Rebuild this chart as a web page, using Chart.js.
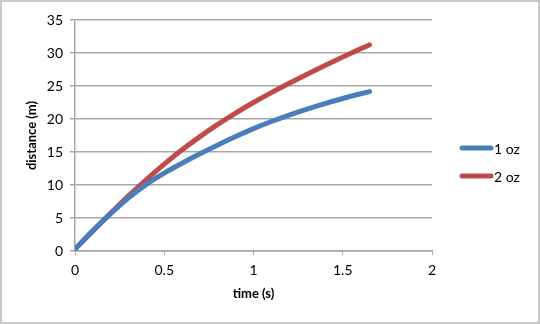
<!DOCTYPE html>
<html>
<head>
<meta charset="utf-8">
<script src="https://cdn.jsdelivr.net/npm/chart.js@4.4.1/dist/chart.umd.min.js"></script>
<style>
  html, body { margin: 0; padding: 0; background: #fff; }
  #wrap { width: 540px; height: 324px; position: relative; }
</style>
</head>
<body>
<div id="wrap"><canvas id="myChart" width="540" height="324"></canvas></div>
<script>
// time samples (s) and distance (m) for each filter weight
let times = [0, 0.1, 0.2, 0.3, 0.4, 0.5, 0.6, 0.7, 0.8, 0.9, 1.0, 1.1, 1.2, 1.3, 1.4, 1.5, 1.6, 1.65];
let oneOz = [0.3, 3.05, 5.65, 8.05, 10.1, 11.8, 13.3, 14.72, 16.07, 17.35, 18.55, 19.62, 20.6, 21.5, 22.34, 23.11, 23.82, 24.15];
let twoOz = [0.3, 3.05, 5.75, 8.35, 10.83, 13.16, 15.33, 17.33, 19.18, 20.9, 22.5, 24.0, 25.42, 26.79, 28.11, 29.39, 30.63, 31.24];
let seriesNames = ['1 oz', '2 oz'];
let xTicks = [0, 0.5, 1, 1.5, 2];
let yTicks = [0, 5, 10, 15, 20, 25, 30, 35];

const gridGray = '#a6a6a6';
const fontFamily = 'Lato, "Open Sans", sans-serif';

function toPoints(ys) {
  let pts = [];
  for (let i = 0; i < times.length; i++) {
    pts.push({ x: times[i], y: ys[i] });
  }
  return pts;
}

// legend drawn to the right of the plot, stacked around the vertical middle
const sideLegend = {
  id: 'sideLegend',
  afterDraw(chart) {
    const c = chart.ctx;
    const sets = chart.data.datasets;
    const mid = chart.height / 2;
    const gap = 28;
    c.save();
    c.font = '14px ' + fontFamily;
    c.textBaseline = 'middle';
    c.fillStyle = '#000';
    for (let i = 0; i < sets.length; i++) {
      let y = mid + (i - (sets.length - 1) / 2) * gap;
      c.strokeStyle = sets[i].borderColor;
      c.lineWidth = 5;
      c.lineCap = 'round';
      c.beginPath();
      c.moveTo(462, y);
      c.lineTo(491, y);
      c.stroke();
      c.fillText(sets[i].label, 494, y + 1);
    }
    c.restore();
  }
};

// thin frame round the whole chart
const frame = {
  id: 'frame',
  afterDraw(chart) {
    const c = chart.ctx;
    c.save();
    c.strokeStyle = '#b8b8b8';
    c.lineWidth = 1.5;
    c.strokeRect(1, 1, chart.width - 2, chart.height - 2);
    c.restore();
  }
};

function lineSet(name, ys, color) {
  return {
    label: name,
    data: toPoints(ys),
    showLine: true,
    borderColor: color,
    backgroundColor: color,
    borderWidth: 5,
    borderCapStyle: 'round',
    borderJoinStyle: 'round',
    pointRadius: 0,
    cubicInterpolationMode: 'monotone'
  };
}

const ctx = document.getElementById('myChart').getContext('2d');
const myChart = new Chart(ctx, {
  type: 'scatter',
  data: {
    datasets: [
      lineSet(seriesNames[0], oneOz, '#4a7ebb'),
      lineSet(seriesNames[1], twoOz, '#be4b48')
    ]
  },
  options: {
    responsive: false,
    animation: false,
    layout: { padding: { left: 20, top: 20, right: 108, bottom: 18 } },
    plugins: {
      legend: { display: false },
      tooltip: { enabled: false }
    },
    scales: {
      x: {
        type: 'linear',
        min: xTicks[0],
        max: xTicks[xTicks.length - 1],
        afterBuildTicks: (scale) => { scale.ticks = xTicks.map(v => ({ value: v })); },
        afterFit: (scale) => { scale.height = 55; },
        grid: { drawOnChartArea: false, color: gridGray, tickLength: 4, lineWidth: 1 },
        border: { color: gridGray, width: 1.5 },
        ticks: {
          color: '#000',
          padding: 7,
          font: { family: fontFamily, size: 14 },
          callback: (v) => String(v)
        },
        title: {
          display: true,
          text: 'time (s)',
          color: '#000',
          padding: 4,
          font: { family: fontFamily, size: 13, weight: 'bold' }
        }
      },
      y: {
        min: yTicks[0],
        max: yTicks[yTicks.length - 1],
        afterBuildTicks: (scale) => { scale.ticks = yTicks.map(v => ({ value: v })); },
        afterFit: (scale) => { scale.width = 55; },
        grid: { color: gridGray, tickLength: 5, lineWidth: 1.5 },
        border: { color: gridGray, width: 1.5 },
        ticks: {
          color: '#000',
          padding: 7,
          font: { family: fontFamily, size: 14 },
          callback: (v) => String(v)
        },
        title: {
          display: true,
          text: 'distance (m)',
          color: '#000',
          padding: 4,
          font: { family: fontFamily, size: 13, weight: 'bold' }
        }
      }
    }
  },
  plugins: [sideLegend, frame]
});
</script>
</body>
</html>
